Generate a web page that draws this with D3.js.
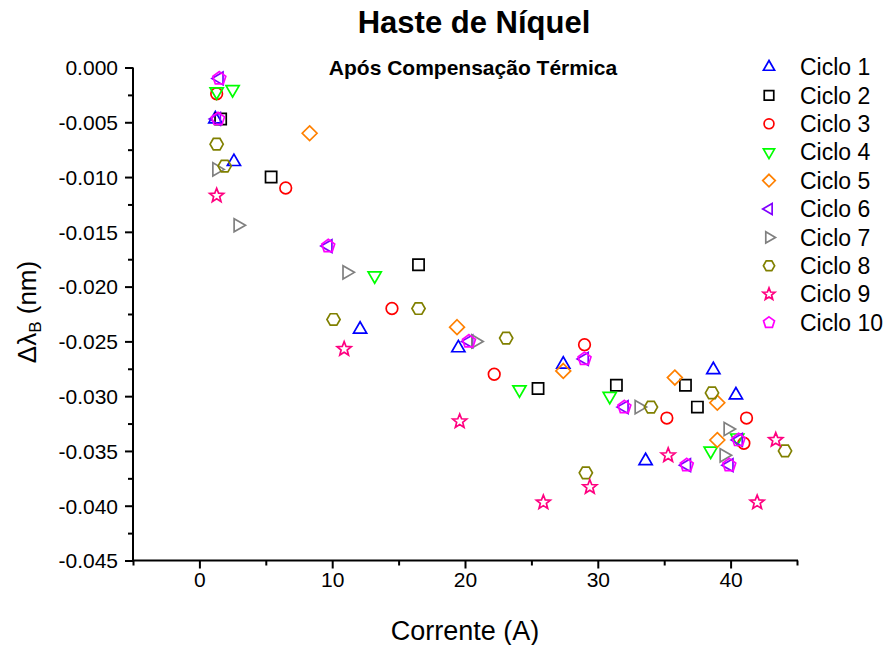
<!DOCTYPE html>
<html>
<head>
<meta charset="utf-8">
<script src="https://cdn.jsdelivr.net/npm/d3@7"></script>
<style>
  html, body { margin: 0; padding: 0; background: #fff; }
  svg { display: block; font-family: "Liberation Sans", Arial, sans-serif; }
</style>
</head>
<body>
<svg id="chart" width="888" height="645"></svg>
<script>
// Corrente (A) e deslocamento Δλ_B (nm) para cada ciclo
const ciclo1X = [1.2, 2.6, 12.1, 19.5, 27.4, 33.6, 38.7, 40.4];
const ciclo1Y = [-0.0047, -0.0086, -0.0239, -0.0256, -0.0271, -0.0359, -0.0276, -0.0299];
const ciclo2X = [1.6, 5.4, 16.5, 25.5, 31.4, 36.6, 37.5];
const ciclo2Y = [-0.0047, -0.0100, -0.0180, -0.0293, -0.0290, -0.0290, -0.0310];
const ciclo3X = [1.3, 6.5, 14.5, 22.2, 29.0, 35.2, 41.2, 41.0];
const ciclo3Y = [-0.0024, -0.0110, -0.0220, -0.0280, -0.0253, -0.0320, -0.0320, -0.0343];
const ciclo4X = [1.3, 2.5, 13.2, 24.1, 30.9, 38.5, 40.5];
const ciclo4Y = [-0.0022, -0.0020, -0.0190, -0.0294, -0.0300, -0.0350, -0.0338];
const ciclo5X = [8.3, 19.4, 27.4, 35.8, 39.0, 39.0];
const ciclo5Y = [-0.0060, -0.0237, -0.0277, -0.0283, -0.0306, -0.0340];
const ciclo6X = [1.3, 1.5, 9.7, 20.3, 29.0, 32.0, 36.7, 39.9, 40.6];
const ciclo6Y = [-0.0047, -0.0010, -0.0163, -0.0250, -0.0266, -0.0310, -0.0363, -0.0363, -0.0340];
const ciclo7X = [1.3, 2.9, 11.1, 20.8, 33.1, 39.8, 39.5];
const ciclo7Y = [-0.0093, -0.0144, -0.0187, -0.0250, -0.0310, -0.0330, -0.0354];
const ciclo8X = [1.3, 1.9, 10.1, 16.5, 23.1, 29.1, 34.0, 38.6, 44.1];
const ciclo8Y = [-0.0070, -0.0090, -0.0230, -0.0220, -0.0247, -0.0370, -0.0310, -0.0297, -0.0350];
const ciclo9X = [1.3, 10.9, 19.6, 25.9, 29.4, 35.3, 42.0, 43.4];
const ciclo9Y = [-0.0117, -0.0257, -0.0323, -0.0397, -0.0383, -0.0354, -0.0397, -0.0340];
const ciclo10X = [1.5, 1.4, 9.7, 20.3, 29.0, 32.0, 36.7, 39.9, 40.6];
const ciclo10Y = [-0.0010, -0.0047, -0.0163, -0.0250, -0.0266, -0.0310, -0.0363, -0.0363, -0.0340];

const serieNomes = ["Ciclo 1", "Ciclo 2", "Ciclo 3", "Ciclo 4", "Ciclo 5",
                    "Ciclo 6", "Ciclo 7", "Ciclo 8", "Ciclo 9", "Ciclo 10"];
const serieCores = ["#0000ff", "#000000", "#ff0000", "#00ff00", "#ff8000",
                    "#8000ff", "#808080", "#808000", "#ff0080", "#ff00ff"];
const serieSimbolos = ["triUp", "square", "circle", "triDown", "diamond",
                       "triLeft", "triRight", "hexagon", "star", "pentagon"];

const xTicks = [-5, 0, 5, 10, 15, 20, 25, 30, 35, 40, 45];
const xLabels = [0, 10, 20, 30, 40];
const yTicks = d3.range(0, 19).map(i => -i * 0.0025);

const series = serieNomes.map((nome, i) => {
  const xs = [ciclo1X, ciclo2X, ciclo3X, ciclo4X, ciclo5X, ciclo6X, ciclo7X, ciclo8X, ciclo9X, ciclo10X][i];
  const ys = [ciclo1Y, ciclo2Y, ciclo3Y, ciclo4Y, ciclo5Y, ciclo6Y, ciclo7Y, ciclo8Y, ciclo9Y, ciclo10Y][i];
  return { nome, cor: serieCores[i], simbolo: serieSimbolos[i], pontos: xs.map((x, j) => ({ x, y: ys[j] })) };
});

// Polygon / marker path builders (centered at 0,0)
function polygon(n, r, startDeg) {
  const pts = d3.range(n).map(k => {
    const a = (startDeg + k * 360 / n) * Math.PI / 180;
    return [r * Math.cos(a), r * Math.sin(a)];
  });
  return "M" + pts.map(p => p[0].toFixed(2) + "," + p[1].toFixed(2)).join("L") + "Z";
}
function starPath(rOut, rIn) {
  const pts = d3.range(10).map(k => {
    const a = (-90 + k * 36) * Math.PI / 180;
    const r = k % 2 === 0 ? rOut : rIn;
    return [r * Math.cos(a), r * Math.sin(a)];
  });
  return "M" + pts.map(p => p[0].toFixed(2) + "," + p[1].toFixed(2)).join("L") + "Z";
}
function markerPath(tipo, s) {
  switch (tipo) {
    case "triUp":    return polygon(3, 7.6 * s, -90);
    case "triDown":  return polygon(3, 7.6 * s, 90);
    case "triLeft":  return polygon(3, 7.4 * s, 180);
    case "triRight": return polygon(3, 7.6 * s, 0);
    case "square":   { const h = 5.6 * s; return `M${-h},${-h}H${h}V${h}H${-h}Z`; }
    case "diamond":  return polygon(4, 7.4 * s, -90);
    case "circle":   { const r = 5.8 * s; return `M${r},0A${r},${r} 0 1,1 ${-r},0A${r},${r} 0 1,1 ${r},0Z`; }
    case "hexagon":  return polygon(6, 6.6 * s, 0);
    case "star":     return starPath(7.4 * s, 3.2 * s);
    case "pentagon": return polygon(5, 6.8 * s, -90);
  }
}

const svg = d3.select("#chart");

const x = d3.scaleLinear().domain([-5, 45]).range([133, 797]);
const y = d3.scaleLinear().domain([-0.045, 0]).range([560.5, 67.5]);

// Eixo X
const xAxis = d3.axisBottom(x)
  .tickValues(xTicks)
  .tickSizeOuter(0)
  .tickSize(0)
  .tickFormat(d => xLabels.includes(d) ? String(d) : "");
const gx = svg.append("g").attr("transform", `translate(0,${y(-0.045)})`).call(xAxis);
gx.select(".domain").attr("stroke", "#000").attr("stroke-width", 2).attr("d", `M${x(-5) - 1},0H${x(45) + 1}`);
gx.selectAll(".tick line")
  .attr("stroke", "#000").attr("stroke-width", 2)
  .attr("y2", d => xLabels.includes(d) ? 8 : 5);
gx.selectAll(".tick text")
  .attr("y", 12).attr("dy", "0.71em")
  .attr("font-size", 21).attr("fill", "#000")
  .attr("font-family", "Liberation Sans, Arial, sans-serif");

// Eixo Y
const yAxis = d3.axisLeft(y)
  .tickValues(yTicks)
  .tickSizeOuter(0)
  .tickSize(0)
  .tickFormat((d, i) => i % 2 === 0 ? d.toFixed(3) : "");
const gy = svg.append("g").attr("transform", `translate(${x(-5)},0)`).call(yAxis);
gy.select(".domain").attr("stroke", "#000").attr("stroke-width", 2).attr("d", `M0,${y(0)}V${y(-0.045) + 1}`);
gy.selectAll(".tick line")
  .attr("stroke", "#000").attr("stroke-width", 2)
  .attr("x2", (d, i) => i % 2 === 0 ? -8 : -5);
gy.selectAll(".tick text")
  .attr("x", -15).attr("dy", "0.35em")
  .attr("font-size", 21).attr("fill", "#000")
  .attr("font-family", "Liberation Sans, Arial, sans-serif");

// Títulos
svg.append("text").attr("x", 474).attr("y", 33).attr("text-anchor", "middle")
  .attr("font-size", 31).attr("font-weight", "bold").text("Haste de Níquel");
svg.append("text").attr("x", 473).attr("y", 75).attr("text-anchor", "middle")
  .attr("font-size", 21).attr("font-weight", "bold").text("Após Compensação Térmica");

svg.append("text").attr("x", 465).attr("y", 640).attr("text-anchor", "middle")
  .attr("font-size", 27).text("Corrente (A)");

const yt = svg.append("text")
  .attr("transform", `translate(36,312) rotate(-90)`)
  .attr("text-anchor", "middle").attr("font-size", 26);
yt.append("tspan").text("Δλ");
yt.append("tspan").attr("font-size", 17).attr("baseline-shift", "-30%").text("B");
yt.append("tspan").text(" (nm)");

// Pontos
const plot = svg.append("g");
series.forEach(s => {
  plot.append("g").selectAll("path").data(s.pontos).join("path")
    .attr("transform", d => `translate(${x(d.x)},${y(d.y)})`)
    .attr("d", markerPath(s.simbolo, 1))
    .attr("fill", "none")
    .attr("stroke", s.cor)
    .attr("stroke-width", 1.7)
    .attr("stroke-linejoin", "miter");
});

// Legenda
const leg = svg.append("g");
series.forEach((s, i) => {
  const yy = 67 + i * 28.4;
  leg.append("path")
    .attr("transform", `translate(769,${yy})`)
    .attr("d", markerPath(s.simbolo, 0.85))
    .attr("fill", "none").attr("stroke", s.cor).attr("stroke-width", 1.7);
  leg.append("text").attr("x", 800).attr("y", yy).attr("dy", "0.36em")
    .attr("font-size", 23).text(s.nome);
});
</script>
</body>
</html>
